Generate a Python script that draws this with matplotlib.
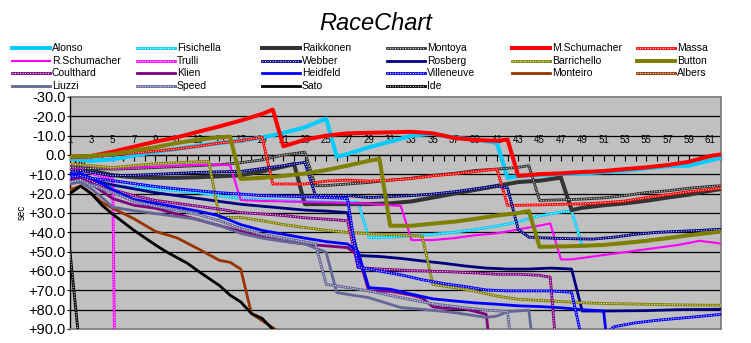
import numpy as np
import matplotlib
matplotlib.use('Agg')
import matplotlib.pyplot as plt
from matplotlib.lines import Line2D

plt.rcParams['font.family'] = ['Liberation Sans', 'DejaVu Sans']

# gap in seconds per lap (key laps only)
alonso_lap = [1, 3, 5, 7, 9, 11, 13, 15, 17, 19, 21, 23, 25, 26, 27, 29, 31, 33, 35, 37, 39, 41, 42, 43, 45, 49, 53, 57, 59, 62]
alonso_gap = [2.0, 3.0, 2.2, 0.4, -1.7, -3.1, -4.8, -6.2, -7.4, -9.1, -11.4, -14.3, -18.8, 0.9, -0.5, -4.0, -6.9, -10.0, -11.0, -9.0, -8.0, -6.2, 11.8, 11.0, 10.3, 9.6, 8.1, 5.8, 5.5, 1.4]

fisichella_lap = [1, 2, 3, 5, 7, 9, 11, 13, 15, 17, 20, 23, 26, 28, 29, 31, 33, 35, 37, 39, 41, 43, 45, 47, 48, 49, 51, 53, 55, 57, 59, 61, 62]
fisichella_gap = [14, 13, 14.5, 16, 16.8, 17.5, 18.5, 19.5, 21, 22.5, 23.5, 24, 24.5, 24.5, 42.7, 42.5, 41.8, 41, 40, 38.5, 36.8, 34.5, 31.5, 29.5, 28.9, 47, 46.5, 45.3, 44.2, 43, 41.5, 40.3, 40]

raikkonen_lap = [1, 2, 3, 5, 7, 9, 11, 13, 15, 17, 19, 21, 22, 23, 25, 27, 29, 31, 33, 35, 37, 39, 41, 43, 45, 47, 48, 49, 51, 53, 55, 57, 59, 61, 62]
raikkonen_gap = [7.5, 6.5, 8, 10.5, 11.5, 11.8, 11.8, 11.5, 11, 10.5, 8.5, 6, 4.7, 25.4, 25.4, 25.4, 25.4, 25, 24, 22, 20, 18, 16, 14, 13.3, 11.7, 28.5, 27.3, 26, 25, 23.7, 22, 20.5, 18.5, 17.6]

montoya_lap = [1, 3, 5, 7, 9, 11, 13, 15, 17, 19, 21, 23, 24, 25, 27, 29, 31, 33, 35, 37, 39, 41, 43, 44, 45, 47, 49, 51, 53, 55, 57, 59, 61, 62]
montoya_gap = [6.5, 7, 7.3, 7, 6.5, 6, 5.5, 5, 4, 2.5, 0, -1.5, 15.9, 15.8, 15, 14.2, 13, 12, 10.5, 9.5, 8, 7.3, 6.4, 5.5, 23.5, 23.2, 22.8, 22.2, 21, 19.4, 18.5, 17.2, 16.2, 15.9]

mschumacher_lap = [1, 3, 5, 7, 9, 11, 13, 15, 17, 19, 20, 21, 23, 25, 27, 29, 31, 33, 35, 37, 39, 41, 42, 43, 45, 47, 49, 51, 53, 55, 57, 59, 61, 62]
mschumacher_gap = [1, 0.5, -1.7, -4.3, -6.9, -9.1, -12, -14.8, -17.8, -21.2, -23.5, -4.5, -7.9, -10, -11.2, -11.5, -11.7, -12, -11.2, -8.8, -7.8, -7.3, -8, 10.8, 9.9, 9.5, 8.8, 8.3, 7.3, 6.4, 5.2, 3.5, 0.5, -0.3]

massa_lap = [1, 3, 5, 7, 9, 11, 13, 15, 17, 19, 20, 21, 23, 25, 27, 29, 31, 33, 35, 37, 39, 41, 42, 43, 45, 47, 49, 51, 53, 55, 57, 59, 61, 62]
massa_gap = [1.5, 1, 0, -1, -2, -3.1, -4.5, -6.2, -7.4, -9.2, 15, 15, 15, 13.5, 13, 13.5, 13, 12.2, 10.8, 9.8, 8.5, 7.3, 26, 26, 25.8, 25.5, 25.3, 24.7, 23.8, 22, 20.5, 19, 17.8, 17.1]

rschumacher_lap = [1, 3, 5, 7, 9, 11, 13, 15, 16, 17, 19, 21, 23, 25, 27, 29, 31, 32, 33, 35, 37, 39, 41, 43, 45, 46, 47, 48, 50, 52, 54, 56, 58, 60, 62]
rschumacher_gap = [5, 5.8, 7, 6.5, 6, 5.5, 5, 5, 5.3, 23.3, 23.8, 24, 24.3, 24.5, 24.8, 25.2, 26, 26.4, 44, 44, 43, 41.5, 40.5, 38.5, 36.5, 35.4, 54, 54, 52.5, 51, 49.5, 48, 46.5, 44.4, 45.8]

trulli_lap = [1, 2, 3, 4, 5, 6]
trulli_gap = [8, 7.5, 9.5, 11, 12.5, 500]

webber_lap = [1, 2, 3, 5, 7, 9, 11, 13, 15, 17, 19, 21, 23, 24, 25, 27, 29, 31, 33, 35, 37, 39, 41, 42, 43, 44, 46, 48, 50, 52, 54, 56, 58, 60, 62]
webber_gap = [8.5, 8, 9, 10.7, 10.5, 10, 9.5, 9, 8.7, 8.5, 7, 5.5, 3.8, 21, 21, 21, 22, 21.5, 21, 20.2, 19, 17.5, 16, 17, 38.5, 42.5, 43, 43.3, 43.5, 42.5, 41, 40, 39.5, 39, 38.4]

rosberg_lap = [1, 2, 3, 5, 7, 9, 11, 13, 15, 17, 19, 21, 23, 25, 27, 28, 30, 32, 34, 36, 38, 40, 42, 44, 46, 48, 49, 51, 55, 58, 62]
rosberg_gap = [12, 11, 13, 15.5, 17.5, 19.5, 21, 22.5, 24, 25.5, 26.5, 27.5, 28.5, 29, 29.8, 52, 52.5, 53.5, 54.8, 56, 57.4, 58.5, 59, 59, 58.5, 59, 80.7, 80.7, 80.5, 80, 79.8]

barrichello_lap = [1, 3, 5, 7, 9, 11, 13, 14, 15, 17, 19, 21, 23, 25, 27, 29, 31, 33, 34, 35, 37, 39, 41, 43, 45, 47, 49, 51, 53, 55, 57, 59, 61, 62]
barrichello_gap = [4.5, 5.5, 6.5, 5.5, 4.5, 4, 3.5, 3.3, 32.3, 32.3, 34, 36, 37.5, 39, 40, 40.7, 41.2, 41.7, 42, 67, 68.6, 70.5, 73, 74.6, 75.2, 75.8, 76.4, 76.8, 77, 77.2, 77.4, 77.6, 77.7, 77.7]

button_lap = [1, 3, 5, 7, 9, 11, 13, 15, 16, 17, 19, 21, 23, 25, 27, 29, 30, 31, 33, 35, 37, 39, 41, 43, 44, 45, 47, 49, 51, 53, 55, 57, 59, 62]
button_gap = [1, 0.5, -0.5, -2.2, -4, -6.2, -7.9, -9.2, -9.5, 12.4, 11.8, 10.8, 9.6, 7.8, 5.5, 3, 2, 36.6, 36.6, 35.5, 34.5, 33, 31.3, 30, 29, 47.5, 47.3, 47, 46.5, 45.5, 44.4, 43, 41.5, 39.6]

coulthard_lap = [1, 2, 3, 5, 7, 9, 11, 13, 15, 17, 19, 21, 23, 25, 27, 28, 30, 33, 36, 39, 41, 43, 45, 46, 47]
coulthard_gap = [12.5, 11.5, 13.5, 18, 21, 23.5, 25, 26.5, 28, 29.8, 30.5, 31.3, 32.5, 33.2, 34, 58.2, 59, 59.8, 60.3, 61, 61.7, 61.7, 62.2, 63.2, 130]

klien_lap = [1, 2, 3, 5, 7, 9, 11, 13, 15, 17, 19, 21, 23, 25, 27, 28, 29, 31, 33, 34, 35, 36, 38, 40, 41]
klien_gap = [13, 12, 15, 22.5, 26, 27.5, 30.5, 33.5, 36.5, 39.5, 42.5, 44.5, 46, 47, 47.9, 52, 70.3, 70.5, 72.5, 74, 78.5, 79.2, 79.6, 82.4, 130]

heidfeld_lap = [1, 2, 3, 5, 7, 9, 11, 13, 15, 17, 19, 21, 23, 25, 27, 28, 29, 31, 33, 35, 37, 39, 41, 43, 45, 47, 49, 51, 52]
heidfeld_gap = [10, 9.5, 12, 18, 23, 25, 27, 29, 31.5, 36, 39, 41, 43, 44.8, 46, 50, 68.6, 69.4, 72, 74.4, 75.5, 76.5, 77.2, 78, 78.4, 79, 80, 80.7, 130]

villeneuve_lap = [1, 2, 3, 5, 7, 9, 11, 13, 15, 17, 19, 21, 23, 25, 27, 28, 30, 32, 34, 36, 38, 40, 42, 44, 46, 48, 49, 50, 51, 52, 53, 54, 56, 58, 60, 62]
villeneuve_gap = [11.5, 10.7, 12, 13.3, 14.8, 16.3, 17.5, 18.5, 19.5, 20.2, 21, 21.3, 21.6, 22, 22.5, 58, 60, 62, 64.5, 66.5, 68, 69.8, 70.3, 70.3, 70.3, 71, 96, 97, 93, 88.8, 87.8, 86.8, 85.5, 84.5, 83.5, 82.4]

monteiro_lap = [1, 2, 3, 4, 5, 7, 9, 11, 13, 15, 16, 17, 18, 20, 21]
monteiro_gap = [18, 16, 20, 24.5, 27.5, 33, 39.5, 42.8, 48.5, 54.5, 55.5, 59, 82, 89.3, 93]

albers_lap = []
albers_gap = []

liuzzi_lap = [1, 2, 3, 4, 5, 7, 9, 11, 13, 15, 17, 19, 21, 23, 25, 26, 29, 32, 34, 37, 40, 41, 42, 44, 45]
liuzzi_gap = [15, 14, 17.5, 22, 27, 28.8, 30.3, 31.8, 33.3, 36.5, 40.5, 43, 44.7, 46, 50.3, 71.2, 73.8, 78.9, 79.8, 81.5, 84, 83.3, 81, 80.3, 130]

speed_lap = [1, 2, 3, 5, 7, 9, 11, 13, 15, 17, 19, 21, 23, 24, 25, 26, 29, 32, 35, 38, 40, 42, 43]
speed_gap = [14, 13, 15.5, 19.5, 24, 26.5, 28.5, 30.8, 34, 38, 41, 43, 45, 46, 66.9, 67.7, 70.3, 73.8, 77, 79, 80.2, 81, 130]

sato_lap = [1, 2, 3, 4, 5, 7, 9, 10, 12, 13, 15, 16, 17, 18, 19, 20, 21]
sato_gap = [20, 16, 20, 26, 30.6, 39, 46.5, 50, 56, 60, 67.5, 72.5, 76, 82, 84.5, 90.2, 95]

ide_lap = [1, 2]
ide_gap = [50, 105]

series = [
    ('Alonso', alonso_lap, alonso_gap, '#00CCFF', 'thick'),
    ('Fisichella', fisichella_lap, fisichella_gap, '#00CCFF', 'dot'),
    ('Raikkonen', raikkonen_lap, raikkonen_gap, '#333333', 'thick'),
    ('Montoya', montoya_lap, montoya_gap, '#333333', 'dot'),
    ('M.Schumacher', mschumacher_lap, mschumacher_gap, '#FF0000', 'thick'),
    ('Massa', massa_lap, massa_gap, '#FF0000', 'dot'),
    ('R.Schumacher', rschumacher_lap, rschumacher_gap, '#FF00FF', 'thin'),
    ('Trulli', trulli_lap, trulli_gap, '#FF00FF', 'dot'),
    ('Webber', webber_lap, webber_gap, '#000080', 'dot'),
    ('Rosberg', rosberg_lap, rosberg_gap, '#000080', 'mid'),
    ('Barrichello', barrichello_lap, barrichello_gap, '#808000', 'dot'),
    ('Button', button_lap, button_gap, '#808000', 'thick'),
    ('Coulthard', coulthard_lap, coulthard_gap, '#800080', 'dot'),
    ('Klien', klien_lap, klien_gap, '#800080', 'mid'),
    ('Heidfeld', heidfeld_lap, heidfeld_gap, '#0000FF', 'mid'),
    ('Villeneuve', villeneuve_lap, villeneuve_gap, '#0000FF', 'dot'),
    ('Monteiro', monteiro_lap, monteiro_gap, '#993300', 'mid'),
    ('Albers', albers_lap, albers_gap, '#993300', 'dot'),
    ('Liuzzi', liuzzi_lap, liuzzi_gap, '#666699', 'mid'),
    ('Speed', speed_lap, speed_gap, '#666699', 'dot'),
    ('Sato', sato_lap, sato_gap, '#000000', 'mid'),
    ('Ide', ide_lap, ide_gap, '#000000', 'dot'),
]

widths = {'thick': 2.9, 'mid': 2.0, 'thin': 1.5, 'dot': 2.0}

fig = plt.figure(figsize=(7.51, 3.43), dpi=100)
ax = fig.add_axes([70/751, 1-329/343, 651/751, 232/343])
ax.set_facecolor('#C0C0C0')

for i, (name, laps, gaps, color, style) in enumerate(series):
    z = 3 + i*0.1
    ax.plot(laps, gaps, color=color, lw=widths[style], zorder=z)
    if style == 'dot':
        ax.plot(laps, gaps, color='white', lw=0.7, dashes=(1, 1.6), zorder=z+0.05)

ax.set_xlim(1, 62)
ax.set_ylim(90, -30)

for v in range(-20, 90, 10):
    ax.axhline(v, color='black', lw=0.9, zorder=1)
ax.axhline(-30, color='#808080', lw=1.3, zorder=1, clip_on=False)

yt = np.arange(-30, 91, 10)
ax.set_yticks(yt)
ax.set_yticklabels(['0.0' if v == 0 else '%+.1f' % v for v in yt])
ax.tick_params(axis='y', direction='out', length=2, pad=1, labelsize=10.5, width=0.8)

ax.spines['top'].set_position(('data', 0))
ax.spines['top'].set_zorder(1)
ax.spines['top'].set_linewidth(0.9)
ax.spines['left'].set_linewidth(1.0)
ax.spines['left'].set_color('black')
for s in ['bottom', 'right']:
    ax.spines[s].set_color('#808080')
    ax.spines[s].set_linewidth(1.3)

ax.xaxis.set_ticks_position('top')
ax.set_xticks(range(1, 62, 2))
ax.set_xticks(range(1, 63), minor=True)
ax.tick_params(axis='x', which='both', direction='in', length=4, width=0.8, pad=7, labelsize=7)
ax.set_axisbelow(True)

ax.text(1.3, 0.6, 'lap', fontsize=7, va='top', ha='left', zorder=2)

fig.text(0.5, 1-23/343, 'RaceChart', ha='center', va='center', fontsize=17, style='italic')
fig.text(21.7/751, 1-212/343, 'sec', rotation=90, ha='center', va='center', fontsize=7)

# legend: 6 columns x 4 rows
row_y = [48, 61, 73, 86]
for i, (name, laps, gaps, color, style) in enumerate(series):
    row, col = divmod(i, 6)
    x0 = 12 + 125*col
    y = 1 - row_y[row]/343
    xs = [x0/751, (x0+38)/751]
    fig.add_artist(Line2D(xs, [y, y], color=color, lw=widths[style]))
    if style == 'dot':
        fig.add_artist(Line2D(xs, [y, y], color='white', lw=0.7, dashes=(1, 1.6)))
    fig.text((x0+40)/751, y, name, fontsize=7.5, va='center', ha='left')

fig.savefig('out.png', dpi=100)
